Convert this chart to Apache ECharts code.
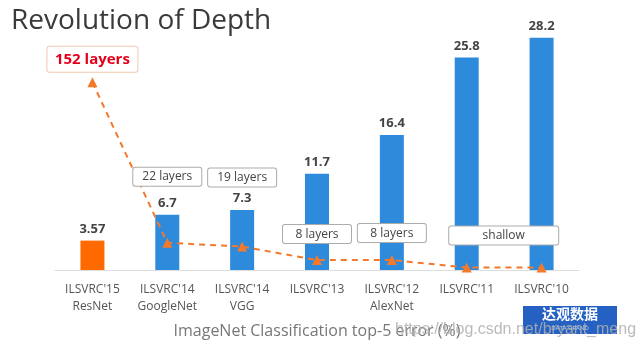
<!DOCTYPE html>
<html>
<head>
<meta charset="utf-8">
<script src="https://cdn.jsdelivr.net/npm/echarts@6/dist/echarts.min.js"></script>
<style>
html,body{margin:0;padding:0;background:#fff;}
#chart{width:641px;height:355px;}
</style>
</head>
<body>
<div id="chart"></div>
<script>
// ---- data ----
var competitions = ["ILSVRC'15", "ILSVRC'14", "ILSVRC'14", "ILSVRC'13", "ILSVRC'12", "ILSVRC'11", "ILSVRC'10"];
var models = ["ResNet", "GoogleNet", "VGG", "", "AlexNet", "", ""];
var top5Error = [3.57, 6.7, 7.3, 11.7, 16.4, 25.8, 28.2];
var layers = [152, 22, 19, 8, 8, 2, 2];  // "shallow" estimated as ~2
var layerLabels = ["152 layers", "22 layers", "19 layers", "8 layers", "8 layers", "shallow", ""];

var categories = competitions.map(function (c, i) { return models[i] ? c + "\n" + models[i] : c; });

// ---- styling / layout (not data) ----
var labelOffsets = [[0, -23], [0, -66], [0, -69], [0, -26], [0, -27], [37, -32], [0, 0]];
var labelWidths = [74, 56, 56, 56, 56, 97, 0];

var lineData = layers.map(function (v, i) {
  var txt = layerLabels[i];
  var first = i === 0;
  return {
    value: v,
    label: {
      show: !!txt,
      formatter: txt,
      position: 'inside',
      offset: labelOffsets[i],
      width: labelWidths[i],
      align: 'center',
      backgroundColor: '#fff',
      borderColor: first ? '#f2c9b0' : '#ababab',
      borderWidth: 1,
      borderRadius: 2,
      padding: first ? [5, 8] : [3, 6],
      color: first ? '#e3001b' : '#444',
      fontWeight: first ? 'bold' : 'normal',
      fontSize: first ? 15 : 12,
      fontFamily: 'Open Sans'
    }
  };
});

var chart = echarts.init(document.getElementById('chart'));
chart.setOption({
  animation: false,
  backgroundColor: '#fff',
  title: {
    text: 'Revolution of Depth',
    left: 6, top: 2,
    textStyle: { fontSize: 28, fontWeight: 'normal', color: '#3a3a3a', fontFamily: 'Open Sans' }
  },
  grid: { left: 55, right: 62, top: 23, bottom: 85 },
  xAxis: {
    type: 'category',
    data: categories,
    axisLine: { lineStyle: { color: '#dddddd', width: 1 } },
    axisTick: { show: false },
    axisLabel: { interval: 0, color: '#555', fontSize: 12, lineHeight: 17, margin: 11, fontFamily: 'Open Sans' },
    name: 'ImageNet Classification top-5 error (%)',
    nameLocation: 'middle',
    nameGap: 53,
    nameTextStyle: { color: '#777', fontSize: 16, fontFamily: 'Open Sans' }
  },
  yAxis: [
    { type: 'value', min: 0, max: 30, show: false, splitLine: { show: false } },
    { type: 'value', min: 0, max: 200, show: false, splitLine: { show: false } }
  ],
  series: [
    {
      type: 'bar',
      data: top5Error,
      barWidth: 24,
      itemStyle: {
        color: function (p) { return p.dataIndex === 0 ? '#ff6a00' : '#2e8bdb'; }
      },
      label: {
        show: true, position: 'top', distance: 5,
        color: '#444', fontWeight: 'bold', fontSize: 13, fontFamily: 'Open Sans'
      },
      z: 2
    },
    {
      type: 'line',
      yAxisIndex: 1,
      data: lineData,
      symbol: 'triangle',
      symbolSize: 10,
      itemStyle: { color: '#f4792b' },
      lineStyle: { color: '#f4792b', width: 2, type: [6, 5] },
      z: 5
    }
  ],
  graphic: [
    {
      type: 'rect', x: 523, y: 306,
      shape: { x: 0, y: 0, width: 94, height: 28 },
      style: { fill: '#2461c3' }, z: 10
    },
    {
      type: 'text', x: 570, y: 307,
      style: { text: '达观数据', fill: '#fff', fontSize: 14, fontWeight: 'bold', fontFamily: 'Noto Sans CJK SC', align: 'center', verticalAlign: 'top' }, z: 11
    },
    {
      type: 'text', x: 570, y: 325,
      style: { text: 'DATA GRAND', fill: 'rgba(255,255,255,0.7)', fontSize: 6, fontFamily: 'Open Sans', align: 'center', verticalAlign: 'top' }, z: 11
    },
    {
      type: 'text', x: 395, y: 322,
      style: { text: 'https://blog.csdn.net/bryant_meng', fill: 'rgba(175,175,175,0.85)', fontSize: 16, fontFamily: 'Liberation Sans', align: 'left', verticalAlign: 'top' }, z: 12
    }
  ]
});
</script>
</body>
</html>
